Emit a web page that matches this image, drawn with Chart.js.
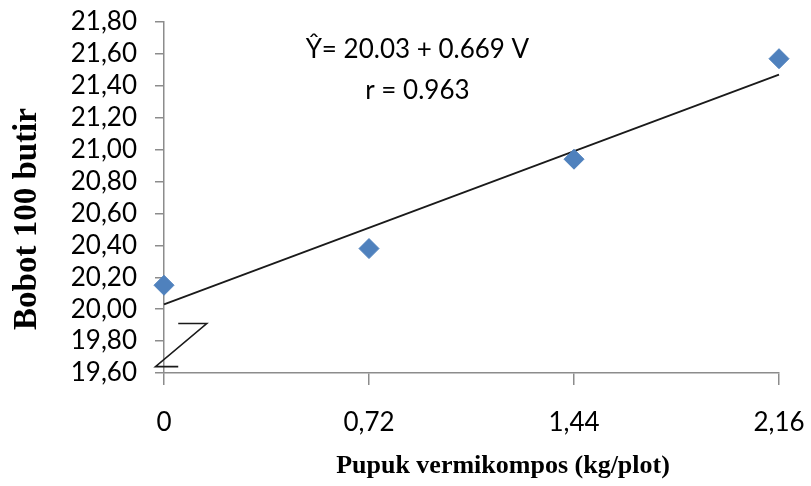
<!DOCTYPE html>
<html>
<head>
<meta charset="utf-8">
<script src="https://cdn.jsdelivr.net/npm/chart.js@4.4.1/dist/chart.umd.min.js"></script>
<style>
  html, body { margin: 0; padding: 0; background: #fff; }
  #wrap { width: 811px; height: 486px; }
</style>
</head>
<body>
<div id="wrap"><canvas id="myChart"></canvas></div>
<script>
// data
const dosis = [0, 0.72, 1.44, 2.16];
const bobot = [20.15, 20.38, 20.94, 21.57];
const trendX = [0, 2.16];
const trendY = [20.03, 21.47];
const yTicks = [19.6, 19.8, 20.0, 20.2, 20.4, 20.6, 20.8, 21.0, 21.2, 21.4, 21.6, 21.8];
// axis break mark (the "Z" near the bottom of the y axis)
const breakX = [0.05, 0.15, -0.03, 0.05];
const breakY = [19.91, 19.91, 19.64, 19.64];
const persamaan = ['\u0176= 20.03 + 0.669 V', 'r = 0.963'];
const judulX = 'Pupuk vermikompos (kg/plot)';
const judulY = 'Bobot 100 butir';

const koma = v => (v === 0 ? '0' : v.toFixed(2).replace('.', ','));
const abu = '#8c8c8c';

Chart.defaults.font.family = 'Lato';
Chart.defaults.font.size = 26;
Chart.defaults.color = '#000';

const teks = {
  id: 'teks',
  afterDraw(chart) {
    const { ctx, scales: { x, y } } = chart;
    ctx.save();
    ctx.fillStyle = '#000';
    ctx.textAlign = 'center';
    ctx.textBaseline = 'middle';
    ctx.font = '26px Lato';
    ctx.fillText(persamaan[0], x.getPixelForValue(0.89), y.getPixelForValue(21.625));
    ctx.fillText(persamaan[1], x.getPixelForValue(0.89), y.getPixelForValue(21.367));
    ctx.font = 'bold 26px "Liberation Serif"';
    ctx.fillText(judulX, 503, 466);
    ctx.translate(27, 219);
    ctx.rotate(-Math.PI / 2);
    ctx.font = 'bold 33px "Liberation Serif"';
    ctx.fillText(judulY, 0, 0);
    ctx.restore();
  }
};

new Chart(document.getElementById('myChart'), {
  type: 'scatter',
  data: {
    datasets: [{
      label: 'Bobot',
      data: dosis.map((v, i) => ({ x: v, y: bobot[i] })),
      pointStyle: 'rectRot',
      pointRadius: 10,
      pointHoverRadius: 10,
      backgroundColor: '#4f81bd',
      borderColor: '#4f81bd',
      borderWidth: 1,
      clip: false
    }, {
      label: 'Trend',
      type: 'line',
      data: trendX.map((v, i) => ({ x: v, y: trendY[i] })),
      borderColor: '#1a1a1a',
      borderWidth: 1.8,
      pointRadius: 0,
      clip: false
    }, {
      label: 'Break',
      type: 'line',
      data: breakX.map((v, i) => ({ x: v, y: breakY[i] })),
      borderColor: '#1a1a1a',
      borderWidth: 1.6,
      pointRadius: 0,
      clip: false
    }]
  },
  options: {
    responsive: true,
    maintainAspectRatio: false,
    animation: false,
    layout: { padding: { top: 22, right: 32, left: 0, bottom: 0 } },
    plugins: { legend: { display: false }, tooltip: { enabled: false } },
    scales: {
      x: {
        type: 'linear',
        min: 0,
        max: 2.16,
        afterBuildTicks: s => { s.ticks = dosis.map(v => ({ value: v })); },
        afterFit: s => { s.height = 113; s.paddingLeft = 0; s.paddingRight = 0; },
        border: { color: abu, width: 1.5 },
        grid: { drawOnChartArea: false, tickLength: 12, color: abu, lineWidth: 1.5 },
        ticks: { padding: 22, autoSkip: false, maxRotation: 0, callback: v => koma(v) }
      },
      y: {
        min: 19.6,
        max: 21.8,
        afterBuildTicks: s => { s.ticks = yTicks.map(v => ({ value: v })); },
        afterFit: s => { s.width = 164; s.paddingTop = 0; s.paddingBottom = 0; },
        border: { color: abu, width: 1.5 },
        grid: { drawOnChartArea: false, tickLength: 9, color: abu, lineWidth: 1.5 },
        ticks: { padding: 18, autoSkip: false, callback: v => koma(v) }
      }
    }
  },
  plugins: [teks]
});
</script>
</body>
</html>
